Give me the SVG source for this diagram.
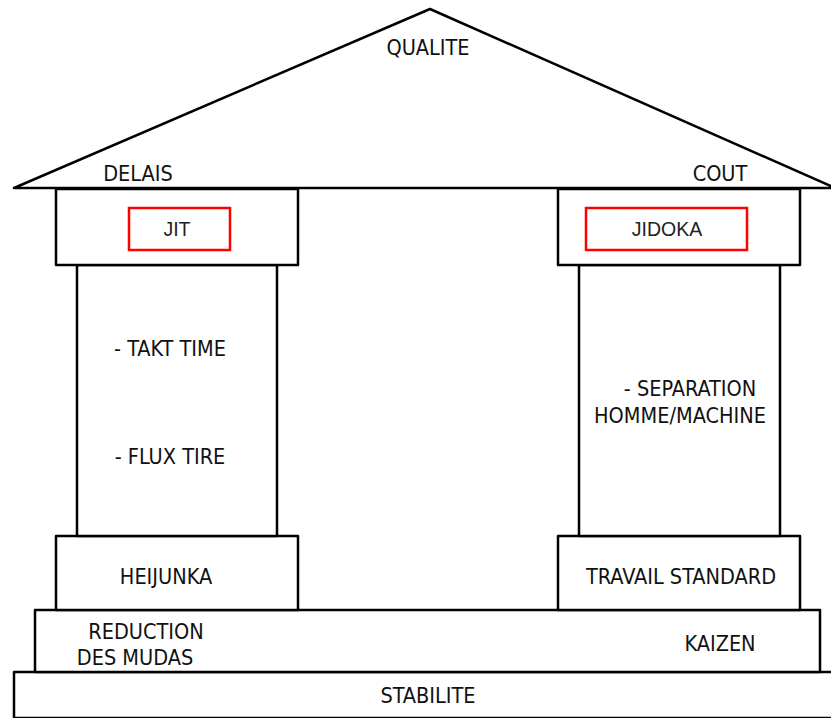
<svg xmlns="http://www.w3.org/2000/svg" width="831" height="718" viewBox="0 0 831 718">
<style>
.s{fill:#fff;stroke:#000;stroke-width:2.5;stroke-linejoin:round}
.t{font-family:"DejaVu Sans Condensed","DejaVu Sans",sans-serif;font-stretch:condensed;font-size:21.5px;fill:#111;text-anchor:middle}
.r{fill:none;stroke:#f00;stroke-width:2.5}
.a{font-family:"Liberation Sans",Arial,sans-serif;font-size:19.5px;fill:#222;text-anchor:middle}
</style>
<rect width="831" height="718" fill="#fff"/>
<g id="stabilite"><rect class="s" x="14" y="672" width="830" height="46"/><text class="t" x="428" y="703">STABILITE</text></g>
<g id="base"><rect class="s" x="35" y="610" width="785" height="62"/>
<text class="t" x="146" y="639">REDUCTION</text><text class="t" x="135" y="665">DES MUDAS</text>
<text class="t" x="720" y="651">KAIZEN</text></g>
<g id="heijunka"><rect class="s" x="56" y="536" width="242" height="74"/><text class="t" x="166" y="584">HEIJUNKA</text></g>
<g id="travail"><rect class="s" x="558" y="536" width="242" height="74"/><text class="t" x="681" y="584">TRAVAIL STANDARD</text></g>
<g id="col-left"><rect class="s" x="77" y="265" width="200" height="271"/>
<text class="t" x="170" y="356">- TAKT TIME</text><text class="t" x="170" y="464">- FLUX TIRE</text></g>
<g id="col-right"><rect class="s" x="579" y="265" width="201" height="271"/>
<text class="t" x="690" y="396">- SEPARATION</text><text class="t" x="680" y="423">HOMME/MACHINE</text></g>
<g id="cap-left"><rect class="s" x="56" y="189" width="242" height="76"/><rect class="r" x="129" y="208" width="101" height="42"/><text class="a" x="177" y="236">JIT</text></g>
<g id="cap-right"><rect class="s" x="558" y="189" width="242" height="76"/><rect class="r" x="586" y="208" width="161" height="42"/><text class="a" x="667" y="236">JIDOKA</text></g>
<g id="roof"><polygon class="s" points="430,9 14,188 835,188"/>
<text class="t" x="428" y="55">QUALITE</text><text class="t" x="138" y="181">DELAIS</text><text class="t" x="720" y="181">COUT</text></g>
</svg>
